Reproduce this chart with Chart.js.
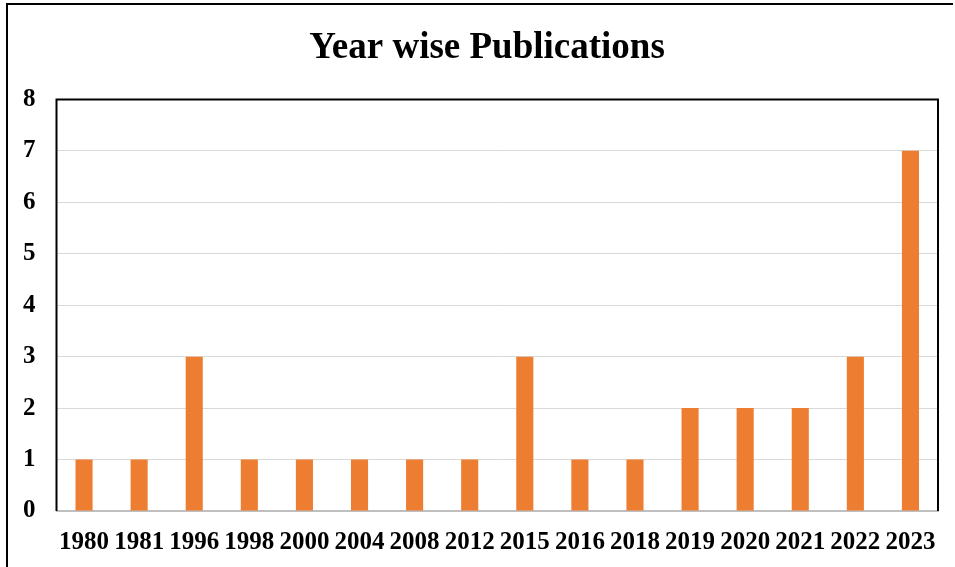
<!DOCTYPE html>
<html>
<head>
<meta charset="utf-8">
<script src="https://cdn.jsdelivr.net/npm/chart.js@4.4.0/dist/chart.umd.min.js"></script>
<style>
  html, body { margin: 0; padding: 0; background: #fff; }
  #wrap { width: 955px; height: 567px; position: relative; }
</style>
</head>
<body>
<div id="wrap"><canvas id="pubChart"></canvas></div>
<script>
// data
var years = ['1980', '1981', '1996', '1998', '2000', '2004', '2008', '2012',
             '2015', '2016', '2018', '2019', '2020', '2021', '2022', '2023'];
var publications = [1, 1, 3, 1, 1, 1, 1, 1, 3, 1, 1, 2, 2, 2, 3, 7];
var yTicks = [0, 1, 2, 3, 4, 5, 6, 7, 8];

// frame around the page + black box around plot area
var framePlugin = {
    id: 'frame',
    afterLayout: function (chart) {
        // title sits a bit right of the canvas centre in the original
        if (chart.titleBlock) chart.titleBlock.left += 34;
    },
    afterDraw: function (chart) {
        var c = chart.ctx, a = chart.chartArea;
        c.save();
        c.strokeStyle = '#000';
        c.lineWidth = 2;
        c.beginPath();
        c.moveTo(7, 567);
        c.lineTo(7, 4);
        c.lineTo(953, 4);
        c.stroke();
        c.beginPath();
        c.moveTo(a.left, a.bottom);
        c.lineTo(a.left, a.top);
        c.lineTo(a.right, a.top);
        c.lineTo(a.right, a.bottom);
        c.stroke();
        c.restore();
    }
};

var tickFont = { family: "'Liberation Serif', 'Times New Roman', serif", size: 25, weight: 'bold' };

new Chart(document.getElementById('pubChart').getContext('2d'), {
    type: 'bar',
    data: {
        labels: years,
        datasets: [{
            label: 'Publications',
            data: publications,
            backgroundColor: '#ED7D31',
            borderWidth: 0,
            barPercentage: 0.31,
            categoryPercentage: 1
        }]
    },
    options: {
        responsive: true,
        maintainAspectRatio: false,
        animation: false,
        layout: { padding: { left: 2, right: 17, top: 0, bottom: 12 } },
        plugins: {
            legend: { display: false },
            tooltip: { enabled: false },
            title: {
                display: true,
                text: 'Year wise Publications',
                color: '#000',
                font: { family: "'Liberation Serif', 'Times New Roman', serif", size: 37, weight: 'bold' },
                padding: { top: 26, bottom: 29 }
            }
        },
        scales: {
            x: {
                grid: { display: false, drawTicks: false },
                border: { display: true, color: '#bfbfbf', width: 2 },
                ticks: { color: '#000', font: tickFont, padding: 17, maxRotation: 0, autoSkip: false },
                afterFit: function (scale) { scale.height = 44; }
            },
            y: {
                min: 0,
                max: 8,
                afterBuildTicks: function (axis) {
                    axis.ticks = yTicks.map(function (v) { return { value: v }; });
                },
                grid: { color: '#d9d9d9', lineWidth: 1, drawTicks: false },
                border: { display: false },
                ticks: { color: '#000', font: tickFont, padding: 21 }
            }
        }
    },
    plugins: [framePlugin]
});
</script>
</body>
</html>
